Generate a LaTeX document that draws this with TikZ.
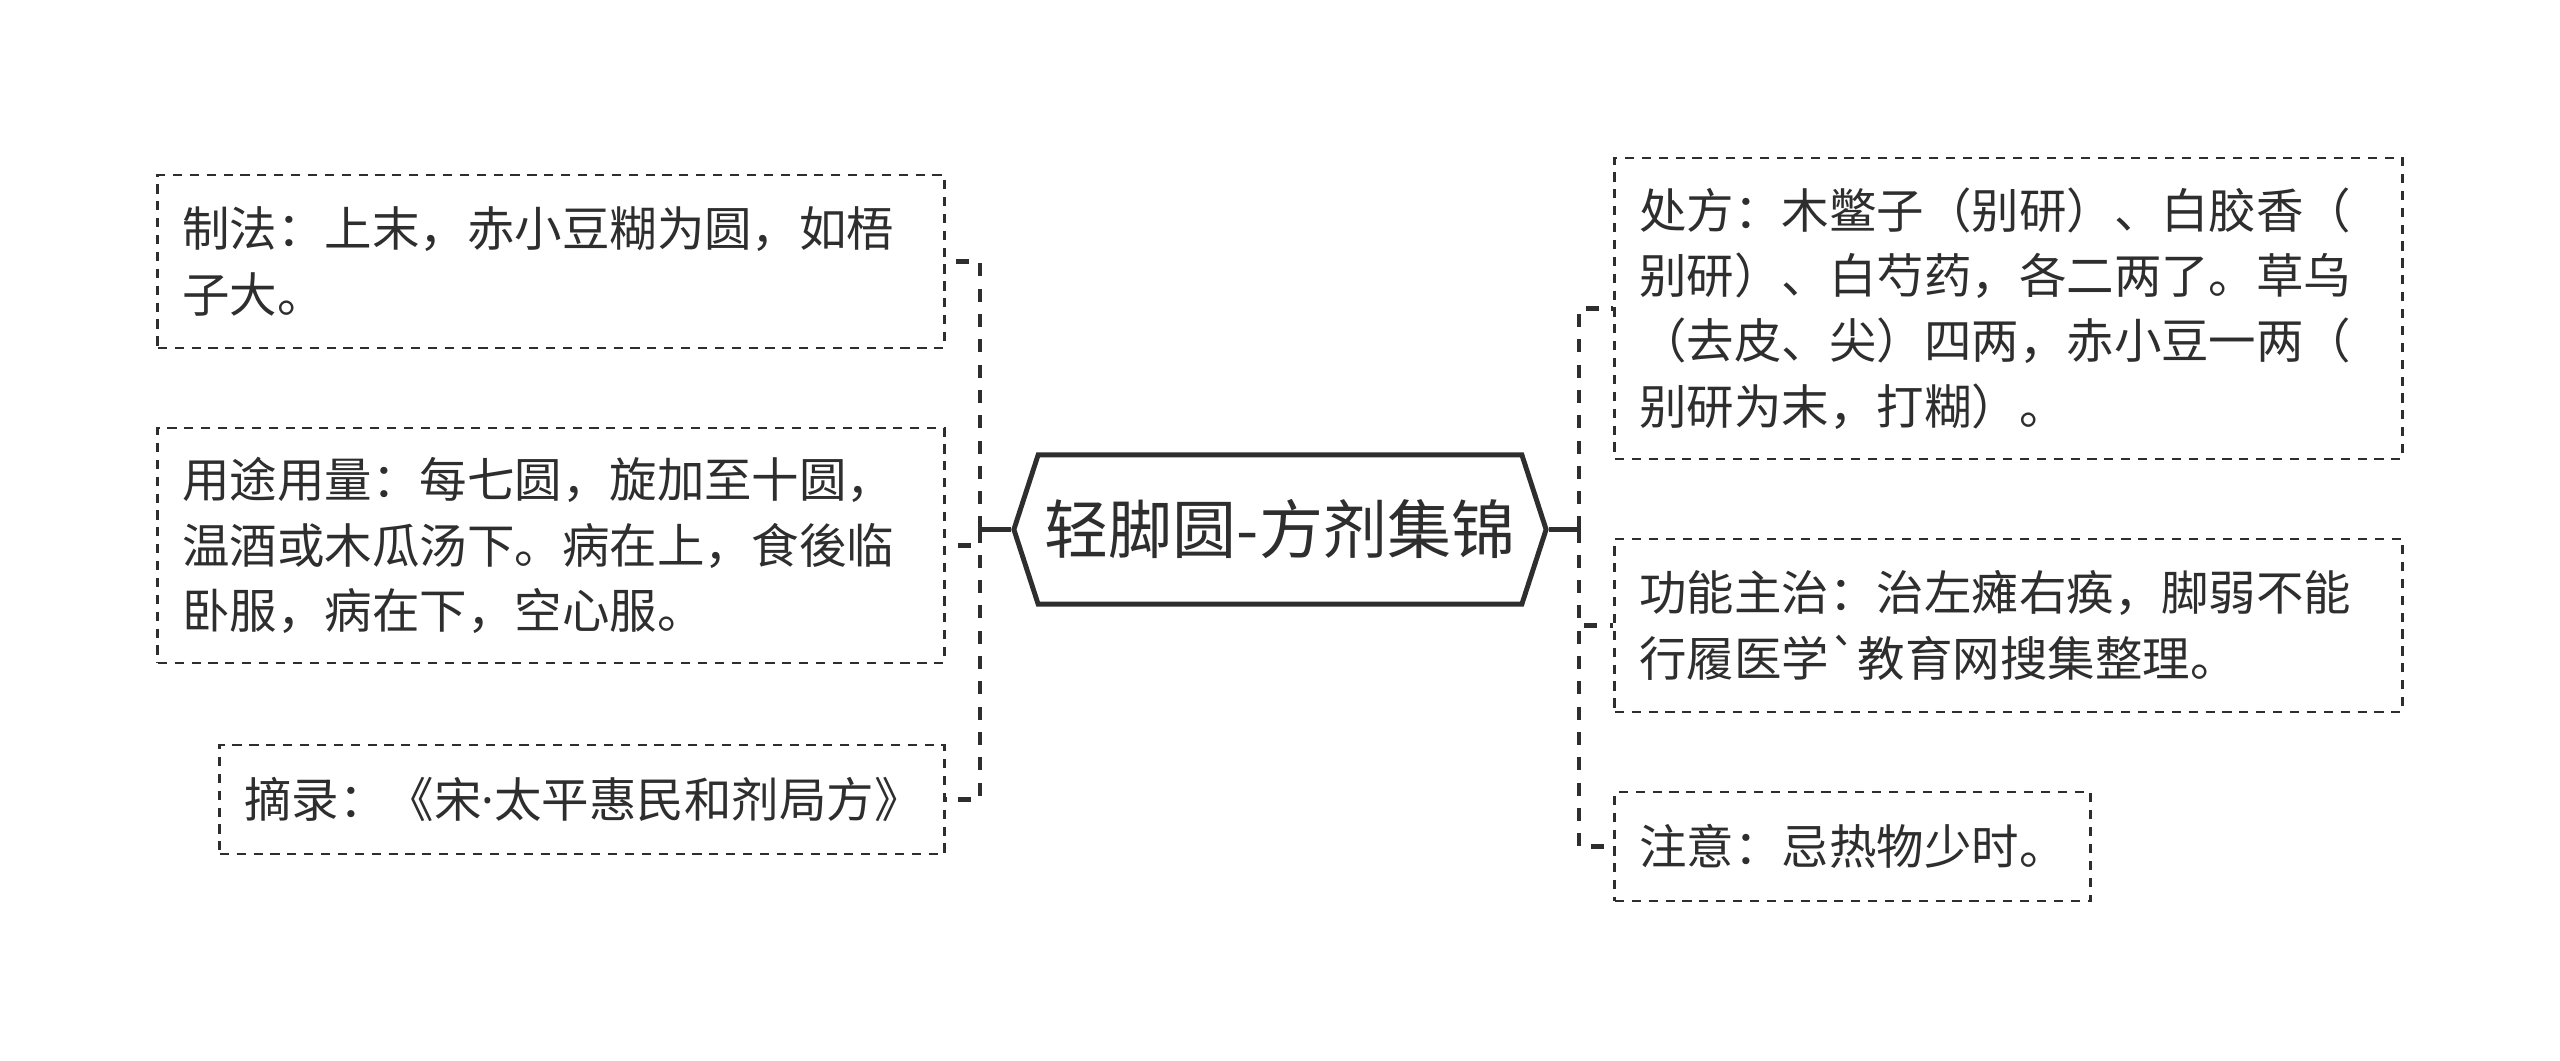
\documentclass[tikz,border=0pt]{standalone}
\usepackage{fontspec}
\setmainfont{Noto Sans CJK SC}[Ligatures=TeXOff]
\newfontfamily\latinfont{Noto Sans}
\usepackage{xcolor}
\usepackage{tikz}
\usetikzlibrary{shapes.symbols,positioning}
\definecolor{inkgray}{HTML}{2E2E2E}
\newcommand{\mdot}{{\latinfont ·}}

\begin{document}
\begin{tikzpicture}[x=0.01cm,y=-0.01cm,
  leaf/.style={draw=inkgray, line width=0.8pt, dash pattern=on 2.6pt off 2.2pt,
    align=left, inner xsep=0.245cm, inner ysep=0pt, text=inkgray,
    font=\fontsize{13.5}{18.6}\selectfont},
  root/.style={signal, signal to=west and east, signal pointer angle=144,
    draw=inkgray, line width=1.4pt, inner xsep=0pt, text width=4.835cm,
    align=center, minimum height=1.49cm, text=inkgray,
    font=\fontsize{18.2}{21}\selectfont},
  stub/.style={inkgray, line width=1.15pt},
  link/.style={inkgray, line width=1.15pt, dash pattern=on 3.7pt off 3.5pt}]
\useasboundingbox[fill=white] (0,0) rectangle (2560,1061);

\node[root] (hex) at (1280,529.5) {轻脚圆-方剂集锦};

% left side
\node[leaf, text width=7.37cm, minimum height=1.73cm] (zhifa) at (551,261.5)
  {制法：上末，赤小豆糊为圆，如梧\\子大。};
\node[leaf, text width=7.37cm, minimum height=2.35cm] (yongtu) at (551,545.5)
  {用途用量：每七圆，旋加至十圆，\\温酒或木瓜汤下。病在上，食後临\\卧服，病在下，空心服。};
\node[leaf, text width=6.75cm, minimum height=1.09cm] (zhailu) at (582,799.5)
  {摘录：《宋\mdot 太平惠民和剂局方》};

% right side
\node[leaf, text width=7.38cm, minimum height=3.01cm] (chufang) at (2008.5,308.5)
  {处方：木鳖子（别研）、白胶香（\\别研）、白芍药，各二两了。草乌\\（去皮、尖）四两，赤小豆一两（\\别研为末，打糊）。};
\node[leaf, text width=7.38cm, minimum height=1.73cm] (gongneng) at (2008.5,625.5)
  {功能主治：治左瘫右痪，脚弱不能\\行履医学`教育网搜集整理。};
\node[leaf, text width=4.26cm, minimum height=1.09cm] (zhuyi) at (1852.5,846.5)
  {注意：忌热物少时。};

\coordinate (ljoin) at (980,529.5);
\coordinate (rjoin) at (1579,529.5);
\draw[stub] (hex.west) -- (ljoin);
\draw[stub] (hex.east) -- (rjoin);
\draw[link] (ljoin) |- (zhifa.east);
\draw[link] (ljoin) |- (yongtu.east);
\draw[link] (ljoin) |- (zhailu.east);
\draw[link] (rjoin) |- (chufang.west);
\draw[link] (rjoin) |- (gongneng.west);
\draw[link] (rjoin) |- (zhuyi.west);
\end{tikzpicture}
\end{document}
